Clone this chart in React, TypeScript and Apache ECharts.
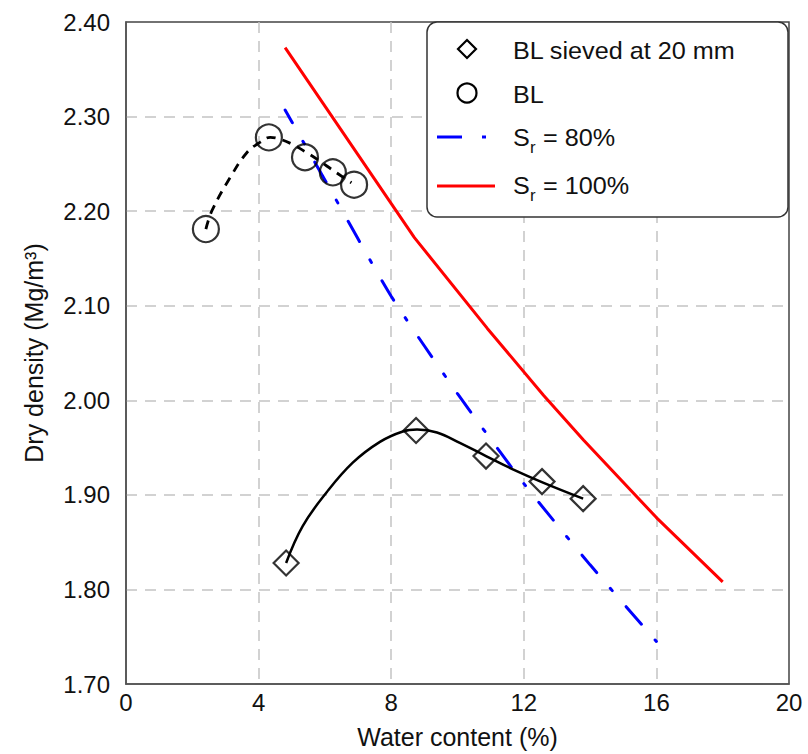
import { useEffect, useRef } from "react";
import * as echarts from "echarts";

// Measured points
const sievedW = [4.83, 8.75, 10.86, 12.55, 13.79];
const sievedRho = [1.828, 1.968, 1.941, 1.914, 1.896];

const blW = [2.41, 4.31, 5.4, 6.24, 6.88];
const blRho = [2.181, 2.278, 2.257, 2.241, 2.228];

// Fitted compaction curves
const sievedFitW = [4.83, 5.33, 6.06, 6.84, 7.66, 8.35, 8.78, 9.38, 10.07, 10.86, 11.67, 12.58, 13.79];
const sievedFitRho = [1.828, 1.867, 1.903, 1.934, 1.956, 1.967, 1.969, 1.966, 1.955, 1.941, 1.927, 1.913, 1.896];

const blFitW = [2.41, 2.6, 3.15, 3.65, 4.05, 4.35, 4.65, 5.0, 5.4, 5.8, 6.25, 6.8];
const blFitRho = [2.181, 2.201, 2.236, 2.262, 2.273, 2.278, 2.276, 2.271, 2.263, 2.254, 2.243, 2.23];

// Saturation lines
const sr80W = [4.8, 6.0, 8.0, 10.0, 12.0, 14.0, 16.0];
const sr80Rho = [2.307, 2.233, 2.11, 2.007, 1.912, 1.826, 1.745];

const sr100W = [4.8, 8.7, 10.9, 12.6, 13.8, 16.0, 18.0];
const sr100Rho = [2.373, 2.172, 2.076, 2.005, 1.958, 1.876, 1.808];

const xTicks = { min: 0, max: 20, interval: 4 };
const yTicks = { min: 1.7, max: 2.4, interval: 0.1 };

const FONT = "'Liberation Sans', Arial, sans-serif";

const zip = (a: number[], b: number[]) => a.map((v, i) => [v, b[i]]);

export default function App() {
  const ref = useRef<HTMLDivElement>(null);
  useEffect(() => {
    const chart = echarts.init(ref.current!, null, { renderer: "svg" });
    const lx = 427;
    const ly = 22;
    const txt = (x: number, y: number, text: string, size = 24) => ({
      type: "text",
      x,
      y,
      z: 102,
      scaleX: 1.05,
      style: {
        text,
        fontSize: size,
        fontFamily: FONT,
        fill: "#111",
        verticalAlign: "middle",
        textAlign: "left",
      },
    });
    const option: any = {
      animation: false,
      backgroundColor: "#fff",
      textStyle: { fontFamily: FONT },
      grid: {
        left: 126,
        top: 22,
        right: 19,
        bottom: 69,
        show: true,
        borderColor: "#444",
        borderWidth: 1.5,
        backgroundColor: "transparent",
      },
      xAxis: {
        type: "value",
        ...xTicks,
        name: "Water content (%)",
        nameLocation: "middle",
        nameGap: 40,
        nameTextStyle: { fontSize: 25, color: "#111", fontFamily: FONT },
        axisLine: { show: true, lineStyle: { color: "#555", width: 1.5 } },
        axisTick: { show: false },
        axisLabel: { fontSize: 24, color: "#111", margin: 6, fontFamily: FONT },
        splitLine: {
          show: true,
          showMinLine: false,
          showMaxLine: false,
          lineStyle: { color: "#c4c4c4", width: 1.5, type: [11, 8] },
        },
      },
      yAxis: {
        type: "value",
        ...yTicks,
        name: "Dry density (Mg/m³)",
        nameLocation: "middle",
        nameGap: 80,
        nameTextStyle: { fontSize: 25, color: "#111", fontFamily: FONT },
        axisLine: { show: true, lineStyle: { color: "#555", width: 1.5 } },
        axisTick: { show: false },
        axisLabel: {
          fontSize: 24,
          color: "#111",
          margin: 16,
          fontFamily: FONT,
          formatter: (v: number) => v.toFixed(2),
        },
        splitLine: {
          show: true,
          showMinLine: false,
          showMaxLine: false,
          lineStyle: { color: "#c4c4c4", width: 1.5, type: [11, 8] },
        },
      },
      series: [
        {
          name: "Sr = 100%",
          type: "line",
          data: zip(sr100W, sr100Rho),
          showSymbol: false,
          symbol: "none",
          lineStyle: { color: "#ff0000", width: 3 },
          z: 2,
        },
        {
          name: "Sr = 80%",
          type: "line",
          data: zip(sr80W, sr80Rho),
          showSymbol: false,
          symbol: "none",
          smooth: 0.2,
          lineStyle: { color: "#0000ff", width: 3, type: [23, 21, 3, 21], dashOffset: 8, cap: "round" },
          z: 2,
        },
        {
          name: "BL fit",
          type: "line",
          data: zip(blFitW, blFitRho),
          symbol: "none",
          smooth: 0.4,
          lineStyle: { color: "#000", width: 2.8, type: [9, 7] },
          z: 3,
        },
        {
          name: "BL sieved fit",
          type: "line",
          data: zip(sievedFitW, sievedFitRho),
          symbol: "none",
          smooth: 0.4,
          lineStyle: { color: "#000", width: 2.5 },
          z: 3,
        },
        {
          name: "BL sieved at 20 mm",
          type: "scatter",
          data: zip(sievedW, sievedRho),
          symbol: "diamond",
          symbolSize: 25,
          itemStyle: { color: "transparent", borderColor: "#000", borderWidth: 2.2 },
          z: 4,
        },
        {
          name: "BL",
          type: "scatter",
          data: zip(blW, blRho),
          symbol: "circle",
          symbolSize: 26,
          itemStyle: { color: "transparent", borderColor: "#000", borderWidth: 2.2 },
          z: 4,
        },
      ],
      graphic: [
        {
          type: "rect",
          z: 100,
          shape: { x: lx, y: ly, width: 361, height: 195, r: 10 },
          style: { fill: "#fff", stroke: "#333", lineWidth: 1.5 },
        },
        {
          type: "polygon",
          z: 101,
          shape: { points: [[467, 40], [476, 49], [467, 58], [458, 49]] },
          style: { fill: "none", stroke: "#000", lineWidth: 2.2 },
        },
        {
          type: "circle",
          z: 101,
          shape: { cx: 467, cy: 93, r: 9.5 },
          style: { fill: "none", stroke: "#000", lineWidth: 2.2 },
        },
        {
          type: "line",
          z: 101,
          shape: { x1: 437, y1: 137, x2: 462, y2: 137 },
          style: { stroke: "#0000ff", lineWidth: 3 },
        },
        {
          type: "line",
          z: 101,
          shape: { x1: 482, y1: 137, x2: 486, y2: 137 },
          style: { stroke: "#0000ff", lineWidth: 3 },
        },
        {
          type: "line",
          z: 101,
          shape: { x1: 437, y1: 186, x2: 495, y2: 186 },
          style: { stroke: "#ff0000", lineWidth: 3 },
        },
        txt(513, 51, "BL sieved at 20 mm"),
        txt(513, 95, "BL"),
        txt(513, 138, "S"),
        txt(530, 147, "r", 16),
        txt(536, 138, " = 80%"),
        txt(513, 186, "S"),
        txt(530, 195, "r", 16),
        txt(536, 186, " = 100%"),
      ],
    };
    chart.setOption(option);
    return () => chart.dispose();
  }, []);
  return (
    <div
      ref={ref}
      style={{ position: "fixed", left: 0, top: 0, width: 808, height: 754 }}
    />
  );
}
